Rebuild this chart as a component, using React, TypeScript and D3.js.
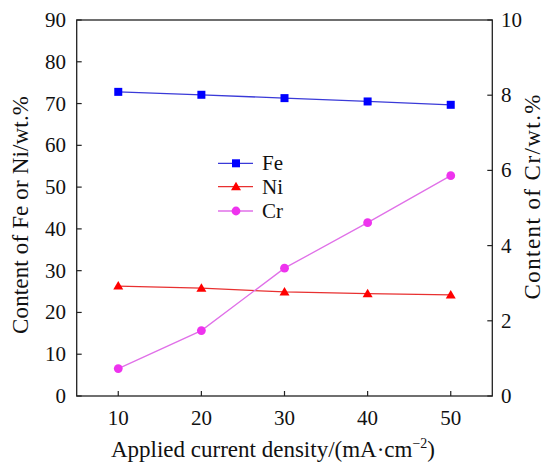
import React from "react";
import * as d3 from "d3";

const current = [10, 20, 30, 40, 50];
const fe = [72.8, 72.1, 71.3, 70.5, 69.7];
const ni = [26.3, 25.8, 24.9, 24.5, 24.2];
const cr = [0.73, 1.74, 3.4, 4.61, 5.86];
const xTicks = [10, 20, 30, 40, 50];
const yLeftTicks = [0, 10, 20, 30, 40, 50, 60, 70, 80, 90];
const yRightTicks = [0, 2, 4, 6, 8, 10];
const legendItems = ["Fe", "Ni", "Cr"];

const W = 544, H = 464;
const L = 76.7, R = 492.3, T = 20, B = 396;
const FS = 21;
const TFS = 23;
const SERIF = "Liberation Serif";

export default function App() {
  const x = d3.scaleLinear().domain([5, 55]).range([L, R]);
  const yL = d3.scaleLinear().domain([0, 90]).range([B, T]);
  const yR = d3.scaleLinear().domain([0, 10]).range([B, T]);

  const lineL = d3.line<number>().x((_, i) => x(current[i])).y((d) => yL(d));
  const lineR = d3.line<number>().x((_, i) => x(current[i])).y((d) => yR(d));

  const feColor = "#0000ff", feLine = "#3a3ad8";
  const niColor = "#ff0000", niLine = "#e83030";
  const crColor = "#ee33ee", crLine = "#e070e8";

  const sq = (cx: number, cy: number, c: string, k: string) => (
    <rect key={k} x={cx - 4} y={cy - 4} width={8} height={8} fill={c} />
  );
  const tri = (cx: number, cy: number, c: string, k: string) => (
    <path key={k} d={`M${cx},${cy - 5} L${cx + 5},${cy + 3.5} L${cx - 5},${cy + 3.5} Z`} fill={c} />
  );
  const circ = (cx: number, cy: number, c: string, k: string) => (
    <circle key={k} cx={cx} cy={cy} r={4.4} fill={c} />
  );

  const legendY = [163.3, 186.7, 211];
  const legendCfg = [
    { line: feLine, color: feColor, m: sq },
    { line: niLine, color: niColor, m: tri },
    { line: crLine, color: crColor, m: circ },
  ];

  const txt = (props: any, children: any) => (
    <text fontSize={FS} fill="#111" fontFamily={SERIF} style={{ fontFamily: SERIF }} {...props}>{children}</text>
  );

  return (
    <svg width={W} height={H} style={{ position: "absolute", left: 0, top: 0, background: "#fff" }}>
      <rect x={0} y={0} width={W} height={H} fill="#fff" />
      <rect x={L} y={T} width={R - L} height={B - T} fill="none" stroke="#222" strokeWidth={1.3} />
      {xTicks.map((t) => (
        <g key={"x" + t}>
          <line x1={x(t)} x2={x(t)} y1={B} y2={B - 5} stroke="#222" strokeWidth={1.2} />
          {txt({ x: x(t), y: 425, textAnchor: "middle" }, t)}
        </g>
      ))}
      {yLeftTicks.map((t) => (
        <g key={"yl" + t}>
          <line x1={L} x2={L + 5} y1={yL(t)} y2={yL(t)} stroke="#222" strokeWidth={1.2} />
          {txt({ x: 66, y: yL(t) + 7, textAnchor: "end" }, t)}
        </g>
      ))}
      {yRightTicks.map((t) => (
        <g key={"yr" + t}>
          <line x1={R} x2={R - 5} y1={yR(t)} y2={yR(t)} stroke="#222" strokeWidth={1.2} />
          {txt({ x: 501, y: yR(t) + 7, textAnchor: "start" }, t)}
        </g>
      ))}
      {txt({ x: 273, y: 457, textAnchor: "middle", fontSize: TFS }, (
        <>Applied current density/(mA·cm<tspan dy={-9} fontSize={14}>−2</tspan><tspan dy={9}>)</tspan></>
      ))}
      {txt({ transform: "translate(28,215) rotate(-90)", textAnchor: "middle", fontSize: TFS, textLength: 238, lengthAdjust: "spacing" }, "Content of Fe or Ni/wt.%")}
      {txt({ transform: "translate(540,197) rotate(-90)", textAnchor: "middle", fontSize: TFS, textLength: 205, lengthAdjust: "spacing" }, "Content of Cr/wt.%")}
      <path d={lineL(fe) || ""} fill="none" stroke={feLine} strokeWidth={1.3} />
      <path d={lineL(ni) || ""} fill="none" stroke={niLine} strokeWidth={1.3} />
      <path d={lineR(cr) || ""} fill="none" stroke={crLine} strokeWidth={1.3} />
      {fe.map((v, i) => sq(x(current[i]), yL(v), feColor, "fe" + i))}
      {ni.map((v, i) => tri(x(current[i]), yL(v), niColor, "ni" + i))}
      {cr.map((v, i) => circ(x(current[i]), yR(v), crColor, "cr" + i))}
      {legendItems.map((name, i) => (
        <g key={name}>
          <line x1={218} x2={253} y1={legendY[i]} y2={legendY[i]} stroke={legendCfg[i].line} strokeWidth={1.3} />
          {legendCfg[i].m(236, legendY[i], legendCfg[i].color, "lm" + i)}
          {txt({ x: 262, y: legendY[i] + 7 }, name)}
        </g>
      ))}
    </svg>
  );
}
